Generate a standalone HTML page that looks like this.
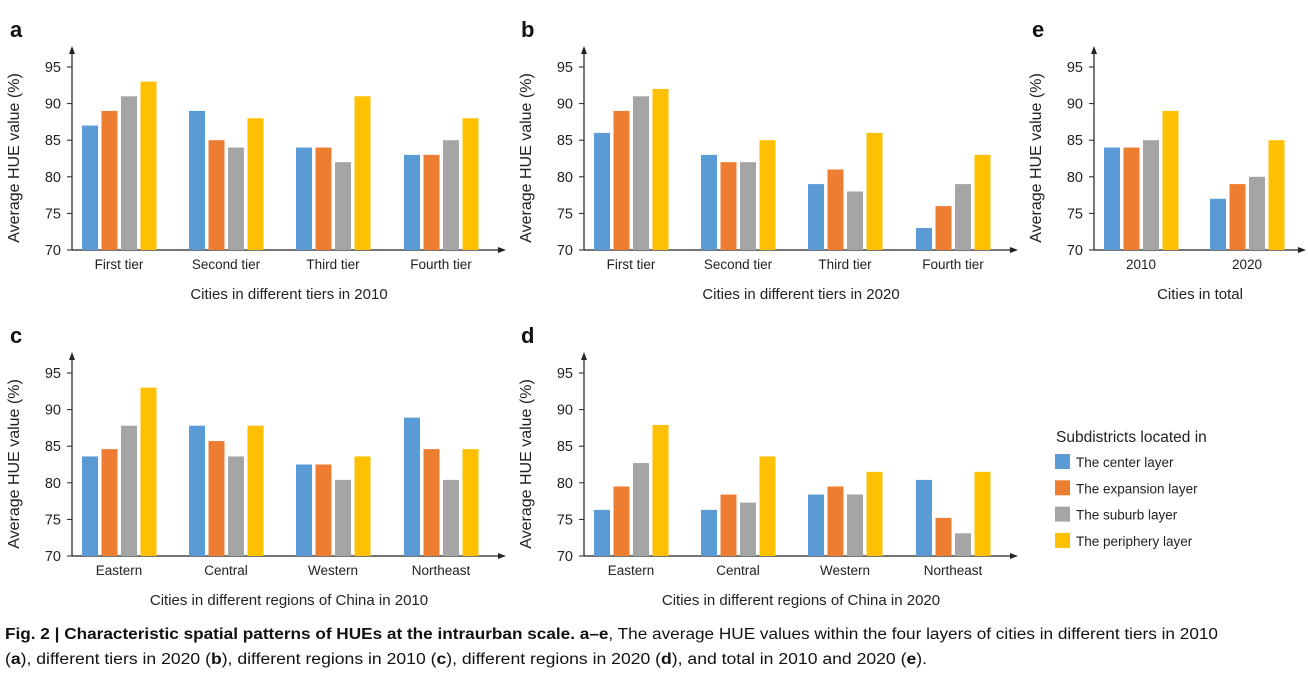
<!DOCTYPE html>
<html><head><meta charset="utf-8"><style>
html,body{margin:0;padding:0;background:#fff;}
svg{display:block;font-family:"Liberation Sans",sans-serif;}
</style></head><body>
<svg id="s" width="1308" height="677" xmlns="http://www.w3.org/2000/svg"></svg>
<script>
const C=["#5B9BD5","#ED7D31","#A5A5A5","#FFC000"];
let h='';
function panel(ax,y0,end,starts,cats,vals,title,letter,lx){
  const ppu=36.6/5, yb=y0;
  const y=v=>yb-(v-70)*ppu;
  h+=`<text x="${lx}" y="${yb-213}" font-size="22" font-weight="bold" fill="#111">${letter}</text>`;
  h+=`<line x1="${ax}" y1="${yb}" x2="${ax}" y2="${yb-198}" stroke="#222" stroke-width="1.2"/>`;
  h+=`<polygon points="${ax-3},${yb-196} ${ax+3},${yb-196} ${ax},${yb-204}" fill="#222"/>`;
  h+=`<line x1="${ax}" y1="${yb}" x2="${end}" y2="${yb}" stroke="#222" stroke-width="1.2"/>`;
  h+=`<polygon points="${end},${yb-3} ${end},${yb+3} ${end+8},${yb}" fill="#222"/>`;
  for(let v=70;v<=95;v+=5){const yy=y(v);
    h+=`<line x1="${ax-5}" y1="${yy}" x2="${ax}" y2="${yy}" stroke="#222"/>`;
    h+=`<text x="${ax-11}" y="${yy+5}" font-size="14.5" text-anchor="end" fill="#222">${v}</text>`;}
  h+=`<text transform="translate(${ax-53},${yb-92}) rotate(-90)" font-size="16" text-anchor="middle" fill="#222">Average HUE value (%)</text>`;
  starts.forEach((s,g)=>{vals[g].forEach((v,i)=>{const x=s+i*19.5;
    h+=`<rect x="${x}" y="${y(v)}" width="16" height="${yb-y(v)}" fill="${C[i]}"/>`;});
    h+=`<text x="${s+37}" y="${yb+19}" font-size="13.5" text-anchor="middle" fill="#222">${cats[g]}</text>`;});
  const mid=(ax+end)/2+4;
  h+=`<text x="${mid}" y="${yb+49}" font-size="15" text-anchor="middle" fill="#222">${title}</text>`;
}
const tiers=["First tier","Second tier","Third tier","Fourth tier"];
const regs=["Eastern","Central","Western","Northeast"];
panel(72,250,498,[82,189,296,404],tiers,[[87,89,91,93],[89,85,84,88],[84,84,82,91],[83,83,85,88]],"Cities in different tiers in 2010","a",10);
panel(584,250,1010,[594,701,808,916],tiers,[[86,89,91,92],[83,82,82,85],[79,81,78,86],[73,76,79,83]],"Cities in different tiers in 2020","b",521);
panel(1094,250,1298,[1104,1210],["2010","2020"],[[84,84,85,89],[77,79,80,85]],"Cities in total","e",1032);
panel(72,556,498,[82,189,296,404],regs,[[83.6,84.6,87.8,93],[87.8,85.7,83.6,87.8],[82.5,82.5,80.4,83.6],[88.9,84.6,80.4,84.6]],"Cities in different regions of China in 2010","c",10);
panel(584,556,1010,[594,701,808,916],regs,[[76.3,79.5,82.7,87.9],[76.3,78.4,77.3,83.6],[78.4,79.5,78.4,81.5],[80.4,75.2,73.1,81.5]],"Cities in different regions of China in 2020","d",521);
h+=`<text x="1056" y="442" font-size="15.5" fill="#222">Subdistricts located in</text>`;
["The center layer","The expansion layer","The suburb layer","The periphery layer"].forEach((t,i)=>{
  const yy=454+i*26.3;
  h+=`<rect x="1055" y="${yy}" width="15" height="15" fill="${C[i]}"/>`;
  h+=`<text x="1076" y="${yy+13}" font-size="13.5" fill="#222">${t}</text>`;});
h+=`<text x="5" y="639" font-size="15.5" fill="#111" textLength="1213" lengthAdjust="spacingAndGlyphs"><tspan font-weight="bold">Fig. 2 | Characteristic spatial patterns of HUEs at the intraurban scale. a–e</tspan>, The average HUE values within the four layers of cities in different tiers in 2010</text>`;
h+=`<text x="5" y="664" font-size="15.5" fill="#111" textLength="922" lengthAdjust="spacingAndGlyphs">(<tspan font-weight="bold">a</tspan>), different tiers in 2020 (<tspan font-weight="bold">b</tspan>), different regions in 2010 (<tspan font-weight="bold">c</tspan>), different regions in 2020 (<tspan font-weight="bold">d</tspan>), and total in 2010 and 2020 (<tspan font-weight="bold">e</tspan>).</text>`;
document.getElementById('s').innerHTML=h;
</script>
</body></html>
